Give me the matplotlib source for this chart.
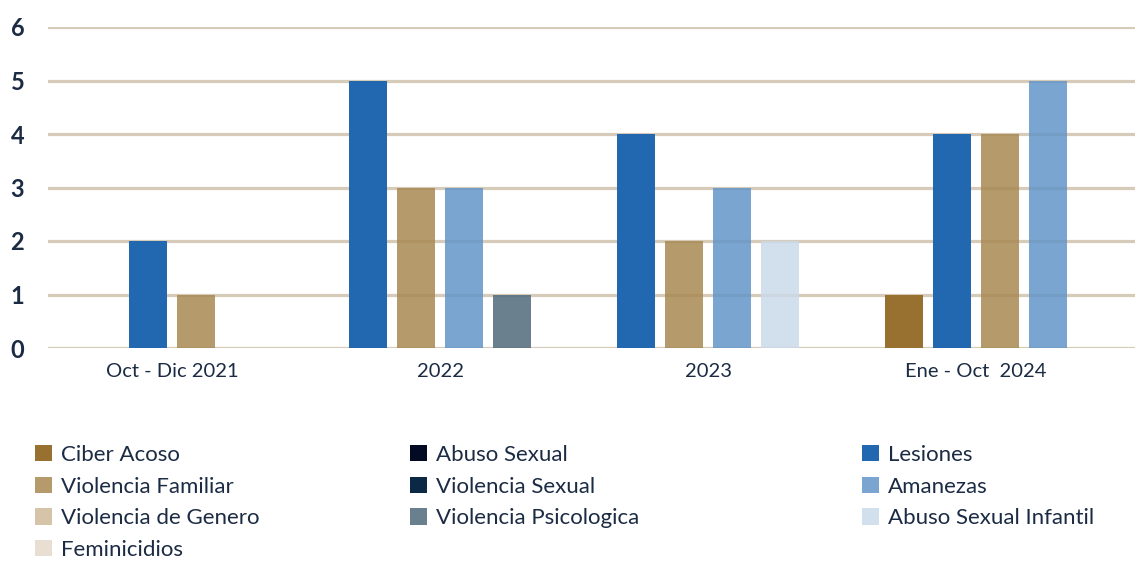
import matplotlib.pyplot as plt
from matplotlib.patches import Patch

# Datos del grafico
categorias = ["Oct - Dic 2021", "2022", "2023", "Ene - Oct  2024"]

ciber_acoso = [0, 0, 0, 1]
violencia_familiar = [1, 3, 2, 4]
violencia_genero = [0, 0, 0, 0]
feminicidios = [0, 0, 0, 0]
abuso_sexual = [0, 0, 0, 0]
violencia_sexual = [0, 0, 0, 0]
violencia_psicologica = [0, 1, 0, 0]
lesiones = [2, 5, 4, 4]
amenazas = [0, 3, 3, 5]
abuso_sexual_infantil = [0, 0, 2, 0]

y_ticks = [0, 1, 2, 3, 4, 5, 6]

# nombre, valores, color, alpha
series = [
    ("Ciber Acoso", ciber_acoso, "#987030", 1.0),
    ("Violencia Familiar", violencia_familiar, "#a88852", 0.85),
    ("Violencia de Genero", violencia_genero, "#d6c4a8", 1.0),
    ("Feminicidios", feminicidios, "#e8ded2", 1.0),
    ("Abuso Sexual", abuso_sexual, "#050a24", 1.0),
    ("Violencia Sexual", violencia_sexual, "#0b2944", 1.0),
    ("Violencia Psicologica", violencia_psicologica, "#506a7c", 0.85),
    ("Lesiones", lesiones, "#2168b0", 1.0),
    ("Amanezas", amenazas, "#6295c8", 0.85),
    ("Abuso Sexual Infantil", abuso_sexual_infantil, "#cbdaea", 0.85),
]

# orden de las barras dentro de cada grupo
orden_barras = ["Ciber Acoso", "Lesiones", "Violencia Familiar", "Amanezas",
                "Violencia Psicologica", "Abuso Sexual Infantil",
                "Violencia de Genero", "Feminicidios", "Abuso Sexual", "Violencia Sexual"]

TEXT = "#1c2b44"
GRID = "#d6cab8"
plt.rcParams["font.family"] = ["Lato", "DejaVu Sans"]

fig = plt.figure(figsize=(11.38, 5.62), dpi=100)
ax = fig.add_axes([48 / 1138, (562 - 348) / 562, (1135 - 48) / 1138, (348 - 27) / 562])

por_nombre = {s[0]: s for s in series}
paso = 0.18
ancho = 0.142
for i, cat in enumerate(categorias):
    presentes = [n for n in orden_barras if por_nombre[n][1][i] > 0]
    k = len(presentes)
    for j, nombre in enumerate(presentes):
        _, vals, color, alpha = por_nombre[nombre]
        x = i + (j - (k - 1) / 2) * paso
        ax.bar(x, vals[i], width=ancho, color=color, alpha=alpha, zorder=2, linewidth=0)

ax.set_xlim((48 - 172) / 268, (1135 - 172) / 268)
ax.set_ylim(0, 6)
ax.set_yticks(y_ticks)
ax.set_yticklabels([str(v) for v in y_ticks], fontsize=17, fontweight="bold", color=TEXT)
ax.set_xticks(range(len(categorias)))
ax.set_xticklabels(categorias, fontsize=14.5, color=TEXT)
ax.tick_params(axis="y", length=0, pad=22)
ax.tick_params(axis="x", length=0, pad=11)
ax.yaxis.grid(True, color=GRID, linewidth=2.3, zorder=1)
ax.set_axisbelow(True)
for sp in ax.spines.values():
    sp.set_visible(False)
for lab in ax.get_yticklabels():
    lab.set_horizontalalignment("center")

# Leyenda en tres columnas
grupos = [series[0:4], series[4:7], series[7:10]]
xs = [35, 410, 862]
for grupo, x0 in zip(grupos, xs):
    handles = [Patch(facecolor=c, alpha=a, edgecolor="none") for _, _, c, a in grupo]
    labels = [n for n, _, _, _ in grupo]
    leg = fig.legend(handles, labels, loc="upper left",
                     bbox_to_anchor=(x0 / 1138, 1 - 445 / 562),
                     frameon=False, fontsize=16, borderpad=0, borderaxespad=0,
                     handlelength=0.75, handleheight=0.75, handletextpad=0.4,
                     labelspacing=0.52, labelcolor=TEXT)

fig.savefig("out.png", dpi=100)
